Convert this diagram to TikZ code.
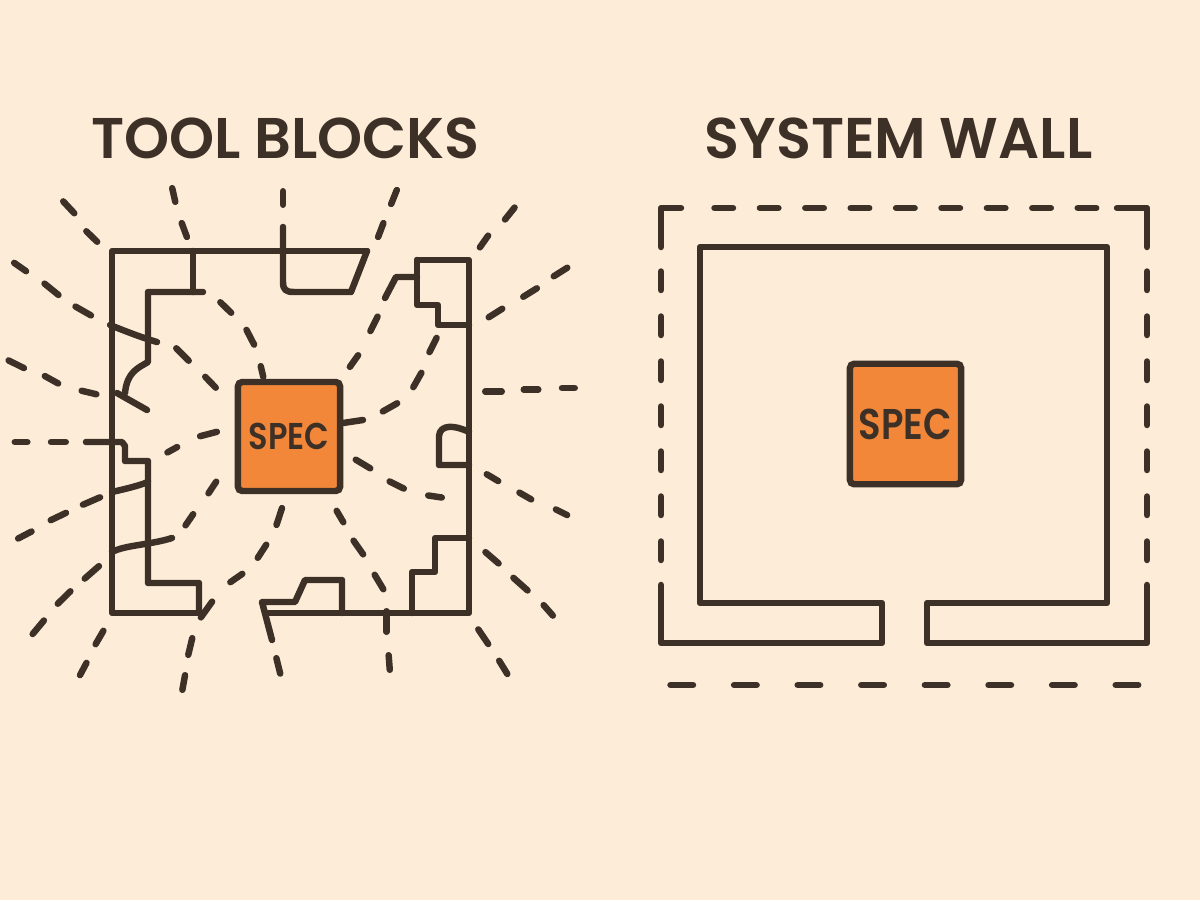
\documentclass[tikz,border=0pt]{standalone}
\usepackage{fontspec}
\setmainfont{Poppins}
\newfontfamily\titlefont{Poppins SemiBold}
\newfontfamily\specfont{Poppins SemiBold}[FakeStretch=0.86]
\definecolor{paper}{HTML}{FCECD8}
\definecolor{ink}{HTML}{3D3027}
\definecolor{specfill}{HTML}{F2873A}
\tikzset{
  wall/.style={draw=ink, line width=4.6pt, line cap=round, line join=round},
  leak/.style={wall, shorten <=2.3pt, shorten >=2.3pt},
  spec/.style={draw=ink, fill=specfill, line width=4.6pt, rounded corners=3pt, text=ink, inner sep=0pt},
  title/.style={text=ink, font=\titlefont\fontsize{40.8}{44}\selectfont, inner sep=0pt}
}
\begin{document}
\begin{tikzpicture}[x=0.025cm,y=-0.025cm]
\fill[paper] (0,0) rectangle (1200,900);
\useasboundingbox (0,0) rectangle (1200,900);
% titles
\node[title] (ttool) at (285.5,138) {TOOL BLOCKS};
\node[title] (twall) at (898.5,138) {SYSTEM WALL};

% tool blocks: broken walls
\draw[wall] (367,251) -- (112,251) -- (112,613) -- (199,613);
\draw[wall] (193,251) -- (193,292);
\draw[wall] (203,292) -- (148,292) -- (148,362) .. controls (138,368) and (127,372) .. (125,393);
\draw[wall] (283,227) -- (283,282) .. controls (283,290) and (286,292) .. (294,292) -- (351,292) -- (367,251);
\draw[wall] (417,277) -- (417,260) -- (469,260) -- (469,613) -- (267,613);
\draw[wall] (417,277) -- (396,277) -- (385,298);
\draw[wall] (417,260) -- (417,305) -- (438,305) -- (438,325) -- (469,325);
\draw[wall] (469,432) .. controls (455,425) and (440,424) .. (439,436) -- (439,465) -- (469,465);
\draw[wall] (412,613) -- (412,572) -- (435,572) -- (435,538) -- (469,538);
\draw[wall] (272,640) -- (262,602) -- (295,602) -- (305,580) -- (342,580) -- (342,613);
\draw[wall] (86,442) -- (122,442) -- (125,446) -- (125,461) -- (148,461) -- (148,583) -- (199,583) -- (199,613);
\draw[wall] (110,325) .. controls (125,331) and (140,337) .. (157,342);
\draw[wall] (117,393) -- (147,410);
\draw[wall] (112,492) .. controls (125,489) and (138,486) .. (148,482);
\draw[wall] (112,552) .. controls (125,545) and (150,545) .. (172,538);
\draw[wall] (343,423) -- (363,420);

% tool blocks: leaks, one dash each
\foreach \ax/\ay/\bx/\by in {
  61/199/76.5/215.6, 84/229/99.5/244,
  171.5/185/176/205, 180.6/220/188/240,
  283/188/283/208,
  398/187/390/207, 384.6/220/377/240,
  516.6/205/503/222, 490/233/478/250,
  11.5/261/28.7/273, 42/281.6/61/297, 72.7/305/93.8/317,
  5.7/359/26.8/369.5, 42/374.5/61/385, 78.5/390/99.5/395,
  11.5/442/30.6/442, 47.8/442/69/442,
  15.3/540/34.4/530, 47.8/521.6/68.9/511.5, 80/506/103/496,
  30.6/636.5/46/618, 55.5/606/72.7/589, 82.3/580.7/101.4/564,
  105/628/94/647, 88/660/78.5/678,
  283/505/275.5/528, 268/542/256/560.5, 245/572/227.7/584, 214/599/199/620, 193/635/187.5/658, 185.6/672/181.8/693,
  335/508/345/525, 351.7/538/365/557, 373/572/385/592, 386.7/608/386.7/635, 388.4/652/390/673,
  353/458/373/470, 386.7/480/406.7/490, 425/495/445/498,
  348/369.5/360/352.6, 369/334/379/313.7,
  438/335/428/355, 423/370/411.7/390, 400/401.7/380/413,
  218/300/233.5/315, 245/327/255.6/347.5, 260/363/264/380,
  174/346/191/363, 203/374.5/218/390,
  164.6/454/180/445.5, 197/437/220/431,
  218/479/206.7/496, 195/511.5/183.7/528,
  486/319/505/307, 520.5/298.5/539.6/286.6, 551/278/570/266,
  482/391.5/505/391.5, 520.5/389.7/541.5/389.7, 558.8/388/578/388,
  484/472.6/501/482.7, 516.6/491/534/501, 553/508/570/516.5,
  483/550/501/565.5, 511/575.7/530/592.6, 541.5/602.7/555/618,
  476.5/626.7/490/646.7, 497.5/658/509/676.7,
  275.6/655/281/676.7}
  \draw[leak] (\ax,\ay) -- (\bx,\by);

\node[spec, minimum width=72.6pt, minimum height=77.5pt, font=\specfont\fontsize{26.5}{28}\selectfont] (lspec) at (289,436.5) {SPEC};

% system wall
\draw[wall] (661,585) -- (661,643) -- (882,643) -- (882,603) -- (700,603) -- (700,247) -- (1107,247) -- (1107,603) -- (927,603) -- (927,643) -- (1147,643) -- (1147,585);
\draw[wall] (681,208) -- (661,208) -- (661,247);
\draw[wall] (1117,208) -- (1147,208) -- (1147,247);
\foreach \i in {0,...,8} \draw[wall] (714.5+45.4*\i,208) -- ++(18.5,0);
\foreach \i in {0,...,6} {
  \draw[wall] (661,271.5+45*\i) -- ++(0,18.5);
  \draw[wall] (1147,271.5+45*\i) -- ++(0,18.5);
}
\foreach \i in {0,...,7} \draw[wall] (670.5+63.6*\i,685) -- ++(22.5,0);

\node[spec, minimum width=79pt, minimum height=85.7pt, font=\specfont\fontsize{30.6}{32}\selectfont] (rspec) at (905.5,424) {SPEC};
\end{tikzpicture}
\end{document}
